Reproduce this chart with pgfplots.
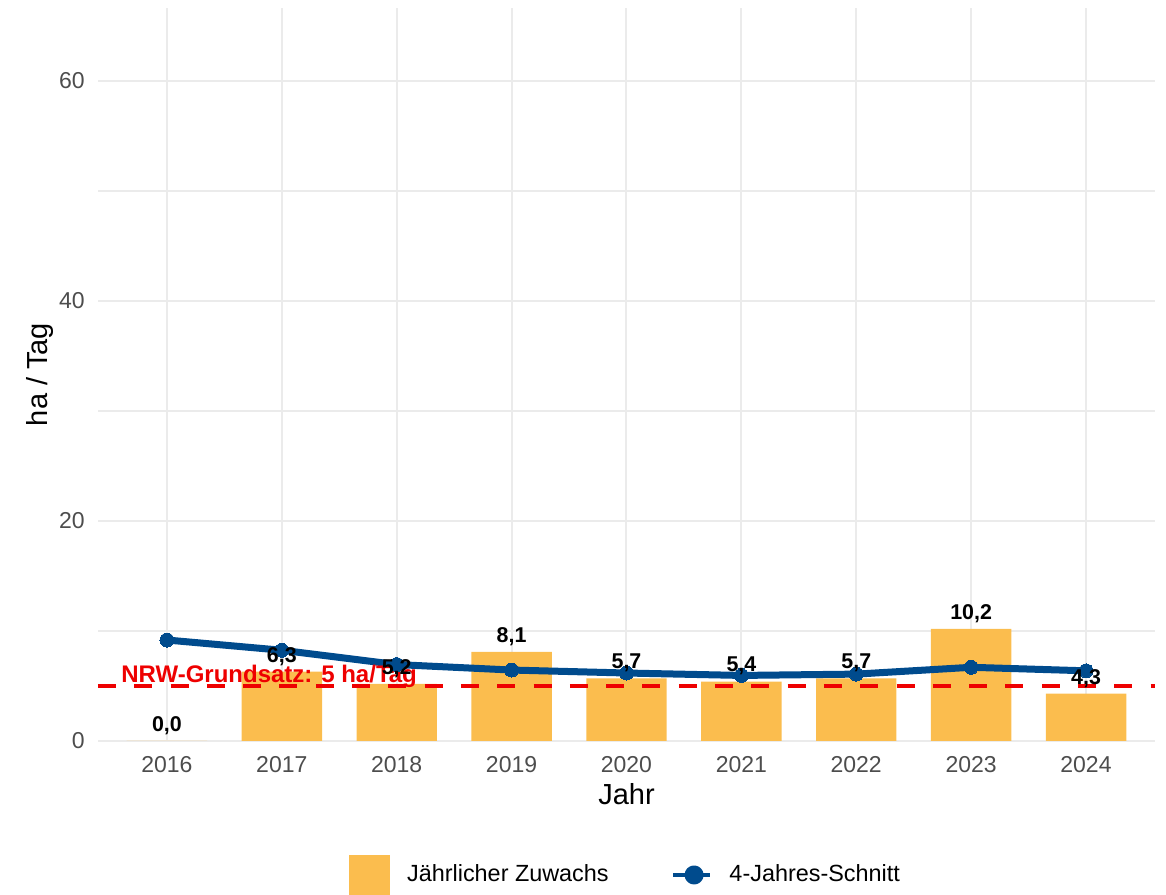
\documentclass[border=0pt]{standalone}
\usepackage{fontspec}
\setmainfont{Liberation Sans}
\usepackage{pgfplots}
\pgfplotsset{compat=1.18}
\definecolor{barcol}{HTML}{FBBD4E}
\definecolor{linecol}{HTML}{004B8D}
\definecolor{refred}{HTML}{EE0000}
\definecolor{gridcol}{HTML}{EBEBEB}
\definecolor{tickcol}{HTML}{4D4D4D}
\pgfplotstableread{
year value
2016 0.0
2017 6.3
2018 5.2
2019 8.1
2020 5.7
2021 5.4
2022 5.7
2023 10.2
2024 4.3
}\bardata
\pgfplotstableread{
year avg
2016 9.18
2017 8.25
2018 6.95
2019 6.45
2020 6.18
2021 5.96
2022 6.08
2023 6.70
2024 6.38
}\linedata
\begin{document}
\begin{tikzpicture}
\begin{axis}[
  name=ax,
  scale only axis, width=528.5pt, height=366.5pt,
  xmin=2015.4, xmax=2024.6, ymin=0, ymax=66.64,
  axis line style={draw=none}, major tick length=0pt, minor tick length=0pt,
  xtick={2016,2017,...,2024},
  xticklabels={2016,2017,2018,2019,2020,2021,2022,2023,2024},
  ytick={0,20,40,60}, minor ytick={10,30,50},
  xmajorgrids, ymajorgrids, yminorgrids,
  major grid style={draw=gridcol, line width=1pt},
  minor grid style={draw=gridcol, line width=0.6pt},
  /pgf/number format/assume math mode=true,
  tick label style={font=\fontsize{11.5}{13}\selectfont, text=tickcol, inner sep=0pt},
  xticklabel style={anchor=base, yshift=-16pt},
  yticklabel style={anchor=east, xshift=-6.5pt},
  xlabel={Jahr}, ylabel={ha / Tag},
  every axis x label/.style={at={(rel axis cs:0.5,0)}, anchor=base, yshift=-32pt, inner sep=0pt, font=\fontsize{14.5}{16}\selectfont},
  every axis y label/.style={at={(rel axis cs:0,0.5)}, anchor=base, rotate=90, yshift=25pt, inner sep=0pt, font=\fontsize{14.5}{16}\selectfont},
  legend style={at={(0.5,-0.1828)}, anchor=center, draw=none, fill=none,
    font=\fontsize{11.7}{13}\selectfont,
    /tikz/every odd column/.append style={column sep=6.5pt},
    /tikz/every even column/.append style={column sep=29pt}},
  legend columns=2,
  legend cell align=left,
  clip=false,
]
\addplot[ybar, bar width=0.7, fill=barcol, draw=none,
  legend image code/.code={\fill[barcol] (0pt,-10pt) rectangle (20.5pt,10pt);}]
  table[x=year, y=value] {\bardata};
\addlegendentry{Jährlicher Zuwachs}
\addplot[refred, line width=2pt, dash pattern=on 9pt off 9.15pt, forget plot]
  coordinates {(2015.4,5) (2024.6,5)};
\addplot[linecol, line width=3.5pt, line join=round, mark=*, mark size=3.5pt,
  mark options={fill=linecol, draw=linecol, line width=0pt},
  legend image code/.code={\draw[linecol, line width=2.4pt] (0pt,0pt) -- (18.5pt,0pt); \fill[linecol] (10.5pt,0pt) circle (3pt);}]
  table[x=year, y=avg] {\linedata};
\addlegendentry{4-Jahres-Schnitt}
\addplot[draw=none, mark=none, forget plot, point meta=y,
  nodes near coords={\pgfmathprintnumber[fixed,fixed zerofill,precision=1,use comma]{\pgfplotspointmeta}},
  nodes near coords style={anchor=base, yshift=4.8pt, inner sep=0pt, font=\fontsize{10.7}{12}\selectfont\bfseries, text=black}]
  table[x=year, y=value] {\bardata};
\node[anchor=base west, inner sep=0pt, text=refred, font=\fontsize{12}{14}\selectfont\bfseries] at (axis cs:2015.6,5.36) {NRW-Grundsatz: 5 ha/Tag};
\end{axis}
\pgfresetboundingbox
\useasboundingbox ([xshift=-49pt,yshift=-77pt]ax.south west) rectangle ([xshift=5.5pt,yshift=4pt]ax.north east);
\end{tikzpicture}
\end{document}
